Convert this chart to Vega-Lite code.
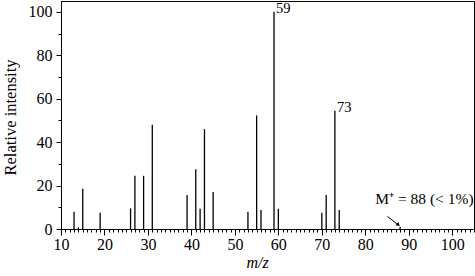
{
  "$schema": "https://vega.github.io/schema/vega-lite/v6.json",
  "width": 413,
  "height": 228,
  "autosize": {"type": "none"},
  "padding": {"left": 61, "top": 1, "right": 1, "bottom": 47},
  "background": "white",
  "config": {
    "font": "Times New Roman, Liberation Serif, serif",
    "view": {"stroke": "black", "strokeWidth": 1},
    "axis": {"grid": false, "domainColor": "black", "tickColor": "black", "labelColor": "black", "titleColor": "black", "labelFont": "Times New Roman, Liberation Serif, serif", "titleFont": "Times New Roman, Liberation Serif, serif", "domainWidth": 1, "tickWidth": 1}
  },
  "datasets": {
    "peaks": [
      {"mz": 13, "intensity": 8},
      {"mz": 14, "intensity": 0.8},
      {"mz": 15, "intensity": 18.5},
      {"mz": 19, "intensity": 7.5},
      {"mz": 26, "intensity": 9.5},
      {"mz": 27, "intensity": 24.5},
      {"mz": 29, "intensity": 24.5},
      {"mz": 31, "intensity": 48},
      {"mz": 39, "intensity": 15.7},
      {"mz": 41, "intensity": 27.5},
      {"mz": 42, "intensity": 9.3},
      {"mz": 43, "intensity": 46},
      {"mz": 45, "intensity": 17},
      {"mz": 53, "intensity": 8},
      {"mz": 55, "intensity": 52.3},
      {"mz": 56, "intensity": 8.8},
      {"mz": 59, "intensity": 100},
      {"mz": 60, "intensity": 9.3},
      {"mz": 70, "intensity": 7.5},
      {"mz": 71, "intensity": 15.7},
      {"mz": 73, "intensity": 54.5},
      {"mz": 74, "intensity": 8.8},
      {"mz": 88, "intensity": 1}
    ],
    "labels": [
      {"mz": 59, "intensity": 100, "label": "59"},
      {"mz": 73, "intensity": 54.5, "label": "73"}
    ],
    "note": [
      {"mz": 82.3, "intensity": 11.4, "label": "M⁺ = 88 (< 1%)"}
    ],
    "arrow": [
      {"x1": 85.1, "y1": 5.8, "x2": 87.6, "y2": 1.9}
    ]
  },
  "layer": [
    {
      "data": {"name": "peaks"},
      "mark": {"type": "rule", "color": "black", "strokeWidth": 1.3},
      "encoding": {
        "x": {"field": "mz", "type": "quantitative", "scale": {"domain": [10, 105], "nice": false, "zero": false},
          "axis": {"orient": "bottom", "values": [10, 20, 30, 40, 50, 60, 70, 80, 90, 100], "tickSize": 6, "labelFontSize": 16, "labelPadding": 1, "title": "m/z", "titleFontSize": 16, "titleFontStyle": "italic", "titleFontWeight": "normal", "titleX": 196, "titleY": 38, "titleAlign": "center", "titleBaseline": "alphabetic", "labelFlush": false}},
        "y": {"field": "intensity", "type": "quantitative", "scale": {"domain": [0, 105], "nice": false},
          "axis": {"orient": "left", "values": [0, 20, 40, 60, 80, 100], "tickSize": 5, "labelFontSize": 16, "labelPadding": 4, "title": "Relative intensity", "titleFontSize": 16.5, "titleFontWeight": "normal", "titleAngle": -90, "titleX": -46, "titleY": 116, "titleAlign": "center", "titleBaseline": "alphabetic", "labelFlush": false}},
        "y2": {"datum": 0}
      }
    },
    {
      "data": {"name": "labels"},
      "mark": {"type": "text", "align": "left", "baseline": "alphabetic", "dx": 2, "dy": 1, "fontSize": 14.5, "font": "Times New Roman, Liberation Serif, serif", "color": "black"},
      "encoding": {
        "x": {"field": "mz", "type": "quantitative",
          "axis": {"orient": "bottom", "values": [10,11,12,13,14,15,16,17,18,19,20,21,22,23,24,25,26,27,28,29,30,31,32,33,34,35,36,37,38,39,40,41,42,43,44,45,46,47,48,49,50,51,52,53,54,55,56,57,58,59,60,61,62,63,64,65,66,67,68,69,70,71,72,73,74,75,76,77,78,79,80,81,82,83,84,85,86,87,88,89,90,91,92,93,94,95,96,97,98,99,100,101,102,103,104,105], "tickSize": 3, "labels": false, "domain": false, "title": null}},
        "y": {"field": "intensity", "type": "quantitative",
          "axis": {"orient": "left", "values": [10, 30, 50, 70, 90], "tickSize": 3, "labels": false, "domain": false, "title": null}},
        "text": {"field": "label"}
      }
    },
    {
      "data": {"name": "note"},
      "mark": {"type": "text", "align": "left", "baseline": "alphabetic", "fontSize": 15.5, "font": "Times New Roman, Liberation Serif, serif", "color": "black"},
      "encoding": {
        "x": {"field": "mz", "type": "quantitative", "axis": null},
        "y": {"field": "intensity", "type": "quantitative", "axis": null},
        "text": {"field": "label"}
      }
    },
    {
      "data": {"name": "arrow"},
      "mark": {"type": "rule", "color": "black", "strokeWidth": 1},
      "encoding": {
        "x": {"field": "x1", "type": "quantitative", "axis": null},
        "y": {"field": "y1", "type": "quantitative", "axis": null},
        "x2": {"field": "x2"},
        "y2": {"field": "y2"}
      }
    },
    {
      "data": {"name": "arrow"},
      "mark": {"type": "point", "shape": "triangle-right", "filled": true, "color": "black", "size": 18, "angle": 40, "opacity": 1},
      "encoding": {
        "x": {"field": "x2", "type": "quantitative", "axis": null},
        "y": {"field": "y2", "type": "quantitative", "axis": null}
      }
    }
  ],
  "resolve": {"axis": {"x": "independent", "y": "independent"}}
}
